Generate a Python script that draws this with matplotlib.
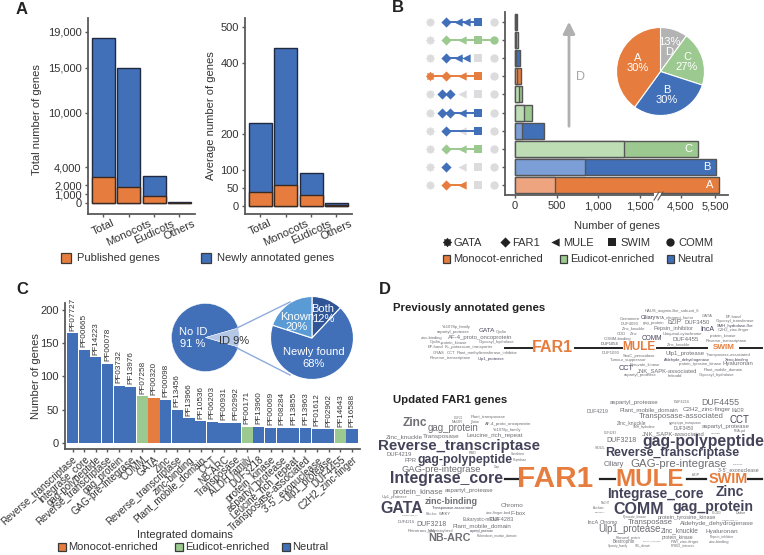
import numpy as np
import matplotlib
matplotlib.use("Agg")
import matplotlib.pyplot as plt
from matplotlib.patches import Rectangle
from matplotlib.path import Path

plt.rcParams['font.family'] = ['Liberation Sans', 'DejaVu Sans']

W, H = 764, 555

ORANGE = "#E67D3E"
BLUE = "#4170B9"
GREEN = "#9CC98F"
L_ORANGE = "#EEA47F"
L_BLUE = "#7C9FD7"
L_GREEN = "#BEDDB4"
AXC = "#595959"
TXT = "#333333"
DARK = "#45435A"
GREY = "#6E6E74"

# panel A
groups = ["Total", "Monocots", "Eudicots", "Others"]
total_all = [18350, 15000, 3000, 110]
total_pub = [2900, 1750, 800, 20]
total_ticks = [0, 1000, 2000, 4000, 10000, 15000, 19000]
avg_all = [233, 441, 92, 10]
avg_pub = [40, 60, 31, 2]
avg_ticks = [0, 50, 100, 200, 400, 500]

# panel B
upset_totals = [5610, 5530, 4990, 350, 205, 90, 70, 55, 40, 30]
upset_light = [480, 840, 1310, 85, 110, 50, 25, 15, 15, 10]
upset_class = ["mono", "neutral", "eu", "neutral", "neutral", "neutral", "mono", "neutral", "eu", "neutral"]
upset_bar_class = ["mono", "neutral", "eu", "neutral", "eu", "eu", "mono", "neutral", "eu", "neutral"]
upset_tags = ["A", "B", "C", "", "", "", "", "", "", ""]
# columns: GATA FAR1 MULE SWIM COMM, 2 = domain present twice
upset_counts = [
    [0, 1, 1, 0, 0],
    [0, 1, 0, 0, 0],
    [0, 1, 1, 1, 0],
    [0, 1, 0, 1, 0],
    [0, 2, 1, 1, 0],
    [0, 2, 0, 0, 0],
    [1, 1, 1, 1, 0],
    [0, 1, 2, 0, 0],
    [0, 1, 1, 1, 1],
    [0, 1, 2, 1, 0],
]
gata_marker = Path.unit_regular_star(8, innerCircle=0.72)
domain_markers = [gata_marker, "D", "<", "s", "o"]
domain_names = ["GATA", "FAR1", "MULE", "SWIM", "COMM"]
b_ticks = [0, 500, 1000, 1500, 4500, 5500]
b_ticklabels = ["0", "500", "1,000", "1,500", "4,500", "5,500"]
pie_b_sizes = [10, 20, 30, 40]
pie_b_labels = ["13%\nD", "C\n27%", "B\n30%", "A\n30%"]
pie_b_colors = ["#B3B3B3", GREEN, BLUE, ORANGE]

# panel C
pf_ids = ["PF07727", "PF00665", "PF14223", "PF00078", "PF03732", "PF13976", "PF07258", "PF00320",
          "PF00098", "PF13456", "PF13966", "PF10536", "PF06203", "PF00931", "PF02992", "PF00171",
          "PF13960", "PF00069", "PF08284", "PF13855", "PF13963", "PF01612", "PF02902", "PF14643", "PF16588"]
pf_names = ["Reverse_transcriptase", "Integrase_core", "gag-polypeptide", "Reverse_transcriptase",
            "gag_protein", "GAG-pre-integrase", "COMM", "GATA", "Zinc", "Reverse_transcriptase",
            "zinc-binding", "Plant_mobile_domain", "CCT", "NB-ARC", "Transposase", "ALDH family",
            "DUF3218", "protein_kinase", "aspartyl_protease", "Leucine_rich_repeat",
            "Transposase-associated", "3'-5'_exonuclease", "Ulp1_protease", "DUF4455", "C2H2_zinc-finger"]
pf_counts = [165, 140, 129, 119, 86, 84, 70, 68, 65, 50, 37, 32, 31, 30, 30, 24, 24, 22, 22, 22, 22, 21, 20, 20, 20]
pf_class = ["n"] * 25
pf_class[6] = "e"
pf_class[7] = "m"
pf_class[15] = "e"
pf_class[23] = "e"
id_sizes = [91, 9]
id_detail_sizes = [12, 68, 20]


def axpx(l, t, r, b, **kw):
    return fig.add_axes([l / W, 1 - b / H, (r - l) / W, (b - t) / H], **kw)


def style(ax):
    for s in ["top", "right"]:
        ax.spines[s].set_visible(False)
    for s in ["left", "bottom"]:
        ax.spines[s].set_color(AXC)
        ax.spines[s].set_linewidth(1.3)
    ax.tick_params(colors=AXC, labelcolor=TXT, labelsize=8, length=2.5, width=1, pad=2)


fig = plt.figure(figsize=(W / 100, H / 100), dpi=100)

# ---- A
def stacked(ax, allv, pub, ticks, ylabel, ylim, labelx, labely):
    x = np.arange(4)
    ax.bar(x, allv, 0.91, color=BLUE, edgecolor="#1F2A40", linewidth=1)
    ax.bar(x, pub, 0.91, color=ORANGE, edgecolor="#3A2A22", linewidth=1)
    ax.set_xlim(-0.61, 3.62)
    ax.set_ylim(*ylim)
    ax.set_yticks(ticks)
    ax.set_yticklabels([f"{t:,}" for t in ticks])
    ax.set_xticks(x)
    ax.set_xticklabels(groups, rotation=25, ha="center", rotation_mode="default")
    ax.set_ylabel(ylabel, fontsize=8, color=TXT)
    ax.yaxis.set_label_coords(labelx, labely)
    style(ax)
    ax.tick_params(axis="x", pad=0.5)


ax1 = axpx(88, 18, 195, 214)
stacked(ax1, total_all, total_pub, total_ticks, "Total number of genes", (-1222, 20555), -0.43, 0.48)
ax2 = axpx(245, 18, 352, 214)
stacked(ax2, avg_all, avg_pub, avg_ticks, "Average number of genes", (-22, 525), -0.27, 0.50)

# ---- B
xp = [-120, 1719, 3824, 5882]
fp = [505, 658, 658.01, 728]
ax3 = axpx(505, 12, 728, 195)
ax3.set_xscale("function", functions=(lambda v: np.interp(v, xp, fp), lambda v: np.interp(v, fp, xp)))
dark = {"mono": ORANGE, "neutral": BLUE, "eu": GREEN}
light = {"mono": L_ORANGE, "neutral": L_BLUE, "eu": L_GREEN}
rows = np.arange(10)
ax3.barh(rows, upset_totals, 0.88, color=[dark[c] for c in upset_bar_class], edgecolor="#555555", linewidth=1)
ax3.barh(rows, upset_light, 0.88, color=[light[c] for c in upset_bar_class], edgecolor="#555555", linewidth=1)
for r, v, tag in zip(rows, upset_totals, upset_tags):
    if tag:
        ax3.text(v - 150, r, tag, color="white", fontsize=8, ha="right", va="center")
ax3.set_xlim(-120, 5882)
ax3.set_ylim(-0.55, 9.55)
ax3.set_xticks(b_ticks)
ax3.set_xticklabels(b_ticklabels)
ax3.minorticks_off()
ax3.set_yticks(rows)
ax3.set_yticklabels([])
ax3.set_xlabel("Number of genes", fontsize=8, color=TXT, labelpad=7)
style(ax3)

# dot matrix next to the bars
ax4 = axpx(420, 12, 505, 195)
ax4.set_xlim(-0.625, 4.6875)
ax4.set_ylim(-0.55, 9.55)
ax4.axis("off")
ms = [46, 27, 36, 34, 36]
for r, (counts, cls) in enumerate(zip(upset_counts, upset_class)):
    col = dark[cls]
    on = [i for i, c in enumerate(counts) if c > 0]
    ax4.plot([min(on), max(on)], [r, r], color=col, lw=1.4, zorder=2)
    for i, c in enumerate(counts):
        if c == 0:
            ax4.scatter(i, r, s=ms[i], marker=domain_markers[i], color="#DCDCDE", linewidths=0, zorder=1)
        elif c == 1:
            ax4.scatter(i, r, s=ms[i], marker=domain_markers[i], color=col, linewidths=0, zorder=3)
        else:
            ax4.scatter([i - 0.22, i + 0.22], [r, r], s=ms[i], marker=domain_markers[i], color=col, linewidths=0, zorder=3)

# pies
ax5 = axpx(616.5, 27.5, 704.5, 115.5)
ax5.pie(pie_b_sizes, colors=pie_b_colors, startangle=90, counterclock=False, radius=1,
        wedgeprops=dict(edgecolor="white", linewidth=0.8))
ax5.set_xlim(-1, 1)
ax5.set_ylim(-1, 1)

ax6 = axpx(171.5, 303.5, 239.5, 371.5, zorder=3)
ax6.pie(id_sizes, colors=[BLUE, "#B4C7E7"], startangle=-16.2, counterclock=False, radius=1,
        wedgeprops=dict(edgecolor="white", linewidth=0.3))
ax6.set_xlim(-1, 1)
ax6.set_ylim(-1, 1)

ax7 = axpx(270.5, 296.5, 353.5, 379.5, zorder=3)
ax7.pie(id_detail_sizes, colors=["#2F5597", BLUE, "#5B9BD5"], startangle=90, counterclock=False, radius=1,
        wedgeprops=dict(edgecolor="white", linewidth=0.8))
ax7.set_xlim(-1, 1)
ax7.set_ylim(-1, 1)

# ---- C
ax8 = axpx(65, 303, 360, 449)
cmap = {"n": BLUE, "e": GREEN, "m": ORANGE}
xc = np.arange(25)
ax8.bar(xc, pf_counts, 0.96, color=[cmap[c] for c in pf_class])
for i, (v, name) in enumerate(zip(pf_counts, pf_ids)):
    ax8.text(i, v + 4, name, rotation=90, ha="center", va="bottom", fontsize=5.9, color=TXT, clip_on=False)
ax8.set_xlim(-0.645, 24.68)
ax8.set_ylim(-9.5, 210.7)
ax8.set_yticks([0, 50, 100, 150, 200])
ax8.set_xticks(xc)
ax8.set_xticklabels(pf_names, rotation=42, ha="right", rotation_mode="anchor")
ax8.set_ylabel("Number of genes", fontsize=8, color=TXT)
ax8.yaxis.set_label_coords(-0.081, 0.5)
style(ax8)
ax8.tick_params(axis="x", labelsize=7, length=2)

# ---- overlay: labels, legends, word clouds
cv = fig.add_axes([0, 0, 1, 1], zorder=10)
cv.set_xlim(0, W)
cv.set_ylim(H, 0)
cv.axis("off")
cv.patch.set_alpha(0)
renderer = fig.canvas.get_renderer()


def label(t, x, y, size=8, color=TXT, ha="left", **kw):
    return cv.text(x, y, t, fontsize=size, color=color, ha=ha, va="center", **kw)


def word(t, x, y, size=3.0, w=None, color=GREY, bold=False):
    txt = cv.text(x, y, t, fontsize=size, color=color, ha="center", va="center",
                  fontweight="bold" if bold else "normal")
    if w is not None:
        ext = txt.get_window_extent(renderer)
        txt.set_fontsize(size * w / ext.width)
    return txt


for t, x, y in [("A", 22, 9), ("B", 398, 8), ("C", 22, 290), ("D", 385, 290)]:
    label(t, x, y, size=12, color="#222222", ha="center", fontweight="bold")


def swatch(x0, y0, w, h, col):
    cv.add_patch(Rectangle((x0, y0), w, h, facecolor=col, edgecolor="#3A3A3A", linewidth=0.9))


# legend A
swatch(60.5, 252.5, 10, 10, ORANGE)
label("Published genes", 77, 258)
swatch(200.5, 252.5, 10, 10, BLUE)
label("Newly annotated genes", 217, 258)

# legend B
for i, (mx, tx) in enumerate(zip([447, 505, 555, 612, 670], [454, 512, 563, 620, 678])):
    cv.scatter(mx, 242, s=ms[i], marker=domain_markers[i], color="#222222", linewidths=0)
    label(domain_names[i], tx, 243)
for sx, col, t in zip([442.5, 559.5, 666.5], [ORANGE, GREEN, BLUE], ["Monocot-enriched", "Eudicot-enriched", "Neutral"]):
    swatch(sx, 255, 7.5, 8, col)
    label(t, sx + 10.5, 259)

# arrow and pie text in B
cv.annotate("", xy=(569, 19), xytext=(569, 129),
            arrowprops=dict(arrowstyle="-|>,head_width=0.35,head_length=0.7", color="#B0B0B0", lw=2))
label("D", 580.5, 76.5, color="#A6A6A6", ha="center", size=9)
for (x, y), t in zip([(669, 47), (687, 62), (667, 95), (638, 63)], pie_b_labels):
    label(t, x, y, color="white", ha="center", linespacing=1.1)
# axis break
cv.add_patch(Rectangle((654, 193), 7, 5, facecolor="white", edgecolor="none"))
for dx in (0, 4):
    cv.plot([654 + dx, 659 + dx], [200, 192], color=AXC, lw=0.8)

# text and connectors in C
cv.plot([237, 290], [328, 302], color="#8FAADC", lw=1)
cv.plot([237, 290], [348, 375], color="#8FAADC", lw=1)
label("No ID\n91 %", 193, 338, color="white", ha="center", linespacing=1.2)
label("ID 9%", 234, 341, color=TXT, ha="center")
label("Both\n12%", 323, 314, color="white", ha="center", linespacing=1.1)
label("Known\n20%", 297, 322, color="white", ha="center", linespacing=1.1)
label("Newly found\n68%", 314, 358, color="white", ha="center", linespacing=1.2)
label("Integrated domains", 185, 535, ha="center")
for sx, col, t in zip([58, 175, 282], [ORANGE, GREEN, BLUE], ["Monocot-enriched", "Eudicot-enriched", "Neutral"]):
    swatch(sx, 543, 7.5, 8, col)
    label(t, sx + 10, 547)

# ---- D
label("Previously annotated genes", 393, 308, size=8.2, color="#222222", fontweight="bold")
label("Updated FAR1 genes", 393, 400, size=8.2, color="#222222", fontweight="bold")

for a, b in [(505, 532), (575, 622), (657, 707), (740, 762)]:
    cv.plot([a, b], [348, 348], color="#222222", lw=1.4, zorder=1)
word("FAR1", 552.7, 347.5, w=41, color=ORANGE, bold=True)
word("MULE", 639, 347.5, w=33, color=ORANGE, bold=True)
word("SWIM", 724, 347.5, w=22, color=ORANGE, bold=True)


def z4(t, zx, zy, **kw):
    word(t, 380 + zx / 3, 285 + zy / 3, **kw)


z4("Yc1078p_family", 228, 127)
z4("aspartyl_protease", 220, 142)
z4("GATA", 320, 137, size=4.6, color=DARK)
z4("Cyclin", 365, 141)
z4("zinc-binding", 155, 158)
z4("AF-4_proto_oncoprotein", 300, 157, size=4.3)
z4("Cyclin_", 170, 172)
z4("protein_kinase", 222, 174)
z4("Glycosyl_hydrolase", 350, 172)
z4("EF-hand", 167, 187)
z4("K+_potassium_transporter", 265, 187)
z4("GRAS", 175, 204)
z4("CCT", 212, 204)
z4("Plant_methyltransferase_inhibitor", 322, 204)
z4("Reverse_transcriptase", 210, 219)
z4("Ulp1_protease", 332, 222, color=DARK)
z4("HAUS_augmin-like_subunit_6", 875, 78)
z4("Ciliary", 805, 96, size=4.0, color=DARK)
z4("TATA_element_factor", 883, 96)
z4("GATA", 983, 92)
z4("EF-hand", 1060, 95)
z4("Costamere", 748, 101)
z4("DUF4093", 748, 117)
z4("gag_protein", 820, 115)
z4("bZIP", 885, 112, size=4.9)
z4("DUF3450", 950, 112, size=4.2)
z4("Glycosyl_transferase", 1065, 108)
z4("Zinc_knuckle", 760, 131)
z4("Pepsin_inhibitor", 880, 131, size=4.1)
z4("IncA", 982, 134, size=5.0, color=DARK)
z4("SMH_hydrolase-like", 1065, 122, color=DARK)
z4("C2H2_zinc-finger", 1060, 136)
z4("CDD", 725, 148)
z4("Zinc", 762, 148)
z4("Ubiquinol-cytochrome", 908, 147)
z4("protein_kinase", 1030, 152)
z4("COMM-binding", 712, 162)
z4("COMM", 815, 160, size=4.7, color=DARK)
z4("DUF4455", 918, 163, size=4.4)
z4("Reverse_transcriptase", 1040, 168)
z4("DUF1054", 688, 178, color=DARK)
z4("Zinc_knuckle", 897, 178)
z4("DUF1093", 692, 203)
z4("Ulp1_protease", 915, 204, size=4.3)
z4("Transposase-associated", 1045, 211)
z4("SnaC_peroxidase", 778, 212)
z4("Xeno-binding", 1070, 224, color=DARK)
z4("Hyaluronan", 1075, 236, size=4.3)
z4("Tumour_suppressor", 745, 225)
z4("Aldehyde_dehydrogenase", 920, 226, size=2.9, color=DARK)
z4("Pyruvate_kinase", 795, 240)
z4("protein_tyrosine_kinase", 960, 238)
z4("CCT", 738, 250, size=5.3, color=DARK)
z4("JNK_SAPK-associated", 860, 256, size=4.2)
z4("Plant_mobile_domain", 1030, 253)
z4("aspartyl_protease", 782, 270)
z4("heleodd", 885, 274)
z4("Glycosyl_hydrolase", 1010, 270)

for a, b in [(505, 518), (600, 615), (687, 706), (748, 762)]:
    cv.plot([a, b], [479, 479], color="#222222", lw=1.6, zorder=1)
word("FAR1", 555.5, 479, w=76, color=ORANGE, bold=True)
word("MULE", 650, 479, w=68, color=ORANGE, bold=True)
word("SWIM", 728, 479, w=39, color=ORANGE, bold=True)


def z5(t, zx, zy, **kw):
    word(t, 380 + zx / 3, 385 + zy / 3, **kw)


def z6(t, zx, zy, **kw):
    word(t, 570 + zx / 3, 385 + zy / 3, **kw)


z5("Zinc", 105, 113, w=24, color=GREY, bold=True)
z5("gag_protein", 218, 130, w=50)
z5("Reverse_transcriptase", 238, 182, w=160, color=DARK, bold=True)
z5("DUF4219", 58, 209, w=25)
z5("gag-polypeptide", 255, 226, w=93, color=DARK, bold=True)
z5("PPR", 92, 227, w=12)
z5("GAG-pre-integrase", 183, 254, w=78)
z5("Integrase_core", 200, 280, w=111, color=DARK, bold=True)
z5("protein_kinase", 112, 322, w=49)
z5("aspartyl_protease", 268, 316, w=48)
z5("zinc-binding", 212, 348, w=52, bold=True)
z5("GATA", 65, 370, w=43, color=DARK, bold=True)
z5("Chromo", 395, 362, w=22)
z5("Transposase-associated", 220, 370, w=42, color=DARK)
z5("F-box", 413, 385, w=15)
z5("DUF3218", 155, 418, w=30)
z5("Plant_mobile_domain", 305, 422, w=58)
z5("DUF4283", 365, 404, w=24)
z5("Ulp1_protease", 45, 337, w=26)
z5("Zinc_knuckle", 72, 154, w=36)
z5("Transposase", 185, 154, w=36)
z5("Leucine_rich_repeat", 343, 152, w=55)
z5("Plant_transposase", 325, 97, w=35)
z5("AF-4_proto_oncoprotein", 385, 118, w=46)
z5("Yc1078p_family", 380, 135, w=28)
z5("NB-ARC", 207, 459, w=42, bold=True)
z5("Eukaryotic-mRNA", 305, 405, w=36)
z5("WRKY", 195, 386, w=12)
z5("Polo-box", 155, 386, w=11)
z5("zinc-finger-bed", 355, 385, w=24)
z5("DUF4216", 78, 411, w=17)
z5("Transposase_22", 90, 392, w=16)
z5("N-Myristoylated", 180, 437, w=25)
z5("aspartyl_protease", 305, 437, w=24, color=DARK)
z5("Retrotrans_gag", 125, 437, w=28)
z5("Rubredoxin_mutate_domain", 350, 452, w=40)
z5("RBD", 278, 205, w=8)
z5("Glutathione", 415, 208, w=14)
z5("Peptidase", 420, 226, w=14)
z5("Gap", 350, 247, w=6)
z5("MuDR", 232, 112, w=11)
z5("DUF21", 235, 98, w=9)
z5("Cation", 285, 112, w=9)

z6("aspartyl_protease", 192, 52, w=48)
z6("DUF4216", 335, 52, w=16)
z6("DUF4455", 450, 53, w=38)
z6("DUF4219", 83, 80, w=22)
z6("Plant_mobile_domain", 237, 75, w=58)
z6("C2H2_zinc-finger", 410, 73, w=47)
z6("MuDR", 505, 76, w=13)
z6("Transposase-associated", 333, 95, w=83)
z6("CCT", 508, 105, w=20, color=DARK)
z6("Zinc_knuckle", 185, 112, w=28)
z6("gypsy-type_transposon", 345, 113, w=32)
z6("DUF3450", 340, 130, w=20)
z6("aspartyl_protease", 468, 125, w=47)
z6("SMH_hydrolase", 222, 127, w=22)
z6("JNK_SAPK-associated", 310, 145, w=62)
z6("DUF3218", 155, 167, w=30)
z6("gag-polypeptide", 400, 170, w=120, color=DARK, bold=True)
z6("Reverse_transcriptase", 308, 205, w=132, color=DARK, bold=True)
z6("Ciliary", 132, 238, w=20)
z6("GAG-pre-integrase", 325, 237, w=95)
z6("DUF4093", 505, 238, w=10)
z6("3'-5'_exonuclease", 505, 255, w=40)
z6("bZIP", 378, 270, w=8)
z6("Integrase_core", 255, 327, w=95, color=DARK, bold=True)
z6("Zinc", 480, 322, w=28, color=DARK, bold=True)
z6("COMM", 205, 372, w=50, color=DARK, bold=True)
z6("gag_protein", 430, 367, w=80, color=DARK, bold=True)
z6("Pyruvate_kinase", 195, 397, w=24)
z6("protein_tyrosine_kinase", 350, 397, w=57)
z6("IncA", 70, 412, w=11)
z6("Chromo", 118, 412, w=18)
z6("Transposase", 240, 413, w=45)
z6("Aldehyde_dehydrogenase", 440, 415, w=72)
z6("Ulp1_protease", 178, 432, w=62)
z6("Zinc_knuckle", 330, 437, w=37)
z6("Hyaluronan", 455, 438, w=32)
z6("protein_kinase", 322, 456, w=30)
z6("Pepsin_inhibitor", 455, 456, w=24)
z6("zinc-binding", 448, 471, w=20)
z6("Ribosomal_protein", 175, 458, w=25)
z6("Bestrophin", 160, 470, w=22)
z6("Glycosyl_hydrolase", 245, 470, w=18)
z6("PWI_zinc-finger", 345, 470, w=28)
z6("Sprouty_family", 145, 482, w=20)
z6("SOL_domain", 220, 482, w=16)
z6("PRKD_intronic", 340, 482, w=24)
z6("NACHT", 105, 355, w=9)
z6("Archaic", 85, 370, w=10)
z6("Endonucl", 90, 382, w=10)
z6("SOUL", 90, 188, w=11)
z6("DUF4283", 120, 145, w=13)
z6("CYPRBD", 437, 145, w=10)
z6("RNA-pol", 510, 137, w=12)
z6("Transposase_31", 480, 405, w=16)
z6("PLOD3", 440, 385, w=10)
z6("Dabor", 512, 385, w=10)

fig.savefig("out.png", dpi=100)
